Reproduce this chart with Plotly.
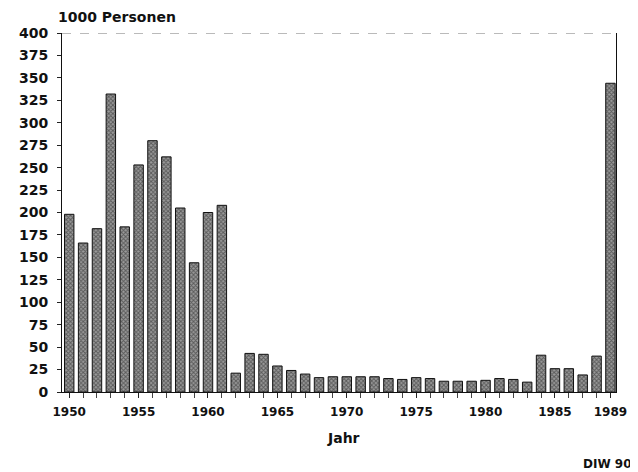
import plotly.graph_objects as go

years = list(range(1950, 1990))
persons_thousand = [198, 166, 182, 332, 184, 253, 280, 262, 205, 144,
                    200, 208, 21, 43, 42, 29, 24, 20, 16, 17,
                    17, 17, 17, 15, 14, 16, 15, 12, 12, 12,
                    13, 15, 14, 11, 41, 26, 26, 19, 40, 344]
x_tick_vals = [1950, 1955, 1960, 1965, 1970, 1975, 1980, 1985, 1989]
y_tick_vals = list(range(0, 401, 25))

FONT = "DejaVu Sans"

fig = go.Figure()
fig.add_trace(go.Bar(
    x=years, y=persons_thousand,
    width=0.68,
    marker=dict(
        color="#6e6e6e",
        line=dict(color="#111111", width=1),
        pattern=dict(shape="x", fgcolor="#1a1a1a", bgcolor="#9a9a9a", size=3, solidity=0.55),
    ),
    showlegend=False,
))

# page body adds an 8px margin; figure sized to fit the 638x472 window
fig.update_layout(
    width=630, height=464,
    margin=dict(l=50, r=11, t=25, b=80),
    paper_bgcolor="white", plot_bgcolor="white",
    font=dict(family=FONT, color="#111111"),
    annotations=[
        dict(text="<b>1000 Personen</b>", xref="paper", yref="paper", x=-0.01, y=1.0,
             xanchor="left", yanchor="bottom", yshift=6, showarrow=False,
             font=dict(size=14, family=FONT)),
        dict(text="<b>Jahr</b>", xref="paper", yref="paper", x=0.508, y=0, yshift=-36,
             xanchor="center", yanchor="top", showarrow=False, font=dict(size=14, family=FONT)),
        dict(text="<b>DIW 90</b>", xref="paper", yref="paper", x=1.032, y=0, yshift=-63,
             xanchor="right", yanchor="top", showarrow=False, font=dict(size=12, family=FONT)),
    ],
    shapes=[
        dict(type="line", xref="paper", yref="y", x0=0, x1=1, y0=400, y1=400,
             line=dict(color="#777777", width=1, dash="dash")),
    ],
)

fig.update_xaxes(
    range=[1949.48, 1989.4],
    tickmode="array", tickvals=x_tick_vals,
    ticktext=[f"<b>{v}</b>" for v in x_tick_vals],
    tickfont=dict(size=12, family=FONT),
    ticks="outside", ticklen=5, tickcolor="#222",
    ticklabelstandoff=4,
    minor=dict(tickmode="array", tickvals=years, ticks="outside", ticklen=5, tickcolor="#444"),
    showline=True, linecolor="#111", linewidth=1,
    showgrid=False, zeroline=False,
)
fig.update_yaxes(
    range=[0, 400],
    tickmode="array", tickvals=y_tick_vals,
    ticktext=[f"<b>{v}</b>" for v in y_tick_vals],
    tickfont=dict(size=14, family=FONT),
    ticks="outside", ticklen=4, tickcolor="#222",
    ticklabelstandoff=6,
    showline=True, linecolor="#111", linewidth=1, mirror=True,
    showgrid=False, zeroline=False,
)

fig.write_html("out.html")
